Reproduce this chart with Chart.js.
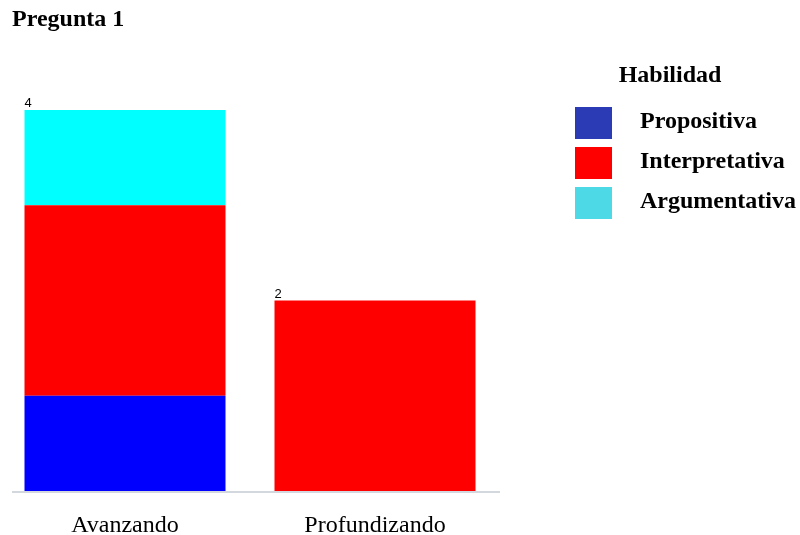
<!DOCTYPE html>
<html>
<head>
<meta charset="utf-8">
<title>Pregunta 1</title>
<script src="https://cdn.jsdelivr.net/npm/chart.js@4.4.1/dist/chart.umd.min.js"></script>
<style>
  html, body { margin: 0; padding: 0; background: #fff; }
  #chart { display: block; }
</style>
</head>
<body>
<canvas id="chart" width="800" height="535"></canvas>
<script>
// Datos de la pregunta 1
const categories = ['Avanzando', 'Profundizando'];
const seriesNames = ['Propositiva', 'Interpretativa', 'Argumentativa'];
const propositiva = [1, 0];
const interpretativa = [2, 2];
const argumentativa = [1, 0];
const yTicks = [0, 1, 2, 3, 4];

const barColors = ['#0000FF', '#FF0000', '#00FFFF'];
const legendColors = ['#2B3AB5', '#FF0000', '#4DD9E6'];

const serif = '"Liberation Serif", "Times New Roman", serif';

// total de cada barra apilada (etiqueta sobre la barra)
function totalAt(i) {
  return propositiva[i] + interpretativa[i] + argumentativa[i];
}

// título, leyenda, línea base y totales dibujados a mano
const extras = {
  id: 'extras',
  afterDraw(chart) {
    const ctx = chart.ctx;
    const y = chart.scales.y;
    ctx.save();

    // título
    ctx.fillStyle = '#000';
    ctx.font = 'bold 24px ' + serif;
    ctx.textAlign = 'left';
    ctx.textBaseline = 'alphabetic';
    ctx.fillText('Pregunta 1', 12, 26);

    // línea base
    const y0 = y.getPixelForValue(0);
    ctx.strokeStyle = '#D3D7DE';
    ctx.lineWidth = 2;
    ctx.beginPath();
    ctx.moveTo(12, y0 + 1);
    ctx.lineTo(500, y0 + 1);
    ctx.stroke();

    // totales
    ctx.fillStyle = '#000';
    ctx.font = '13px "Liberation Sans", Arial, sans-serif';
    const meta = chart.getDatasetMeta(0);
    categories.forEach((c, i) => {
      const bar = meta.data[i];
      const left = bar.x - bar.width / 2;
      ctx.fillText(String(totalAt(i)), left, y.getPixelForValue(totalAt(i)) - 3);
    });

    // leyenda
    ctx.font = 'bold 24px ' + serif;
    ctx.textAlign = 'center';
    ctx.fillText('Habilidad', 670, 82);
    ctx.textAlign = 'left';
    seriesNames.forEach((name, i) => {
      const top = 107 + i * 40;
      ctx.fillStyle = legendColors[i];
      ctx.fillRect(575, top, 37, 32);
      ctx.fillStyle = '#000';
      ctx.fillText(name, 640, top + 21);
    });

    ctx.restore();
  }
};

new Chart(document.getElementById('chart'), {
  type: 'bar',
  data: {
    labels: categories,
    datasets: [
      { label: seriesNames[0], data: propositiva, backgroundColor: barColors[0] },
      { label: seriesNames[1], data: interpretativa, backgroundColor: barColors[1] },
      { label: seriesNames[2], data: argumentativa, backgroundColor: barColors[2] }
    ]
  },
  options: {
    responsive: false,
    animation: false,
    layout: { padding: { left: 0, right: 300, top: 110, bottom: 0 } },
    datasets: {
      bar: { barPercentage: 0.804, categoryPercentage: 1, borderWidth: 0 }
    },
    scales: {
      x: {
        stacked: true,
        offset: true,
        grid: { display: false, drawTicks: false },
        border: { display: false },
        ticks: { color: '#000', padding: 20, font: { family: serif, size: 24 } },
        afterFit(scale) { scale.height = 44; }
      },
      y: {
        stacked: true,
        display: false,
        min: yTicks[0],
        max: yTicks[yTicks.length - 1],
        afterBuildTicks(scale) { scale.ticks = yTicks.map(v => ({ value: v })); }
      }
    },
    plugins: {
      legend: { display: false },
      tooltip: { enabled: false }
    }
  },
  plugins: [extras]
});
</script>
</body>
</html>
